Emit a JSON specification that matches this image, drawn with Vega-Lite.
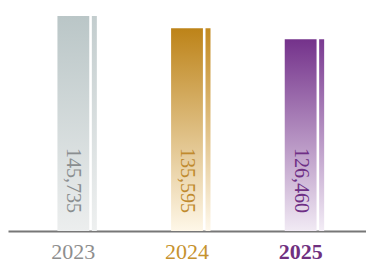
{
  "$schema": "https://vega.github.io/schema/vega-lite/v6.json",
  "width": 358,
  "height": 231,
  "autosize": {"type": "none"},
  "padding": {"left": 8, "top": 0, "right": 0, "bottom": 33},
  "background": "white",
  "config": {"view": {"stroke": null}},
  "data": {"values": [
    {"year": "2023", "value": 145735},
    {"year": "2024", "value": 135595},
    {"year": "2025", "value": 126460}
  ]},
  "encoding": {
    "x": {
      "field": "year", "type": "nominal", "sort": null,
      "scale": {"paddingInner": 0.72, "paddingOuter": 0.435},
      "axis": {
        "title": null, "labelAngle": 0, "ticks": false,
        "domainColor": "#777777", "domainWidth": 2,
        "labelFont": "Liberation Serif", "labelFontSize": 22, "labelPadding": 10,
        "labelColor": {"condition": [
          {"test": "datum.value === '2023'", "value": "#8e8e8e"},
          {"test": "datum.value === '2024'", "value": "#c6922e"}
        ], "value": "#70307f"},
        "labelFontWeight": {"condition": {"test": "datum.value === '2025'", "value": "bold"}, "value": "normal"}
      }
    }
  },
  "layer": [
    {
      "mark": {"type": "bar"},
      "encoding": {
        "y": {"field": "value", "type": "quantitative", "scale": {"domain": [-33000, 159000], "nice": false, "zero": false}, "axis": null},
        "y2": {"datum": -33000},
        "color": {"condition": [
          {"test": "datum.year === '2023'", "value": {"gradient": "linear", "x1": 0, "y1": 0, "x2": 0, "y2": 1, "stops": [{"offset": 0, "color": "#bac6c7"}, {"offset": 1, "color": "#eceeee"}]}},
          {"test": "datum.year === '2024'", "value": {"gradient": "linear", "x1": 0, "y1": 0, "x2": 0, "y2": 1, "stops": [{"offset": 0, "color": "#bd8318"}, {"offset": 1, "color": "#fef7e8"}]}}
        ], "value": {"gradient": "linear", "x1": 0, "y1": 0, "x2": 0, "y2": 1, "stops": [{"offset": 0, "color": "#74328b"}, {"offset": 1, "color": "#f1eaf4"}]}}
      }
    },
    {
      "mark": {"type": "bar", "width": 5, "xOffset": 21},
      "encoding": {
        "y": {"field": "value", "type": "quantitative"},
        "y2": {"datum": -33000},
        "color": {"condition": [
          {"test": "datum.year === '2023'", "value": {"gradient": "linear", "x1": 0, "y1": 0, "x2": 0, "y2": 1, "stops": [{"offset": 0, "color": "#c3cdce"}, {"offset": 1, "color": "#eef0f0"}]}},
          {"test": "datum.year === '2024'", "value": {"gradient": "linear", "x1": 0, "y1": 0, "x2": 0, "y2": 1, "stops": [{"offset": 0, "color": "#c38a20"}, {"offset": 1, "color": "#fef8ec"}]}}
        ], "value": {"gradient": "linear", "x1": 0, "y1": 0, "x2": 0, "y2": 1, "stops": [{"offset": 0, "color": "#7a3a91"}, {"offset": 1, "color": "#f3edf6"}]}}
      }
    },
    {
      "mark": {"type": "text", "angle": 90, "align": "right", "baseline": "middle", "dx": -18, "font": "Liberation Serif", "fontSize": 20},
      "encoding": {
        "y": {"datum": -33000, "type": "quantitative"},
        "text": {"field": "value", "type": "quantitative", "format": ","},
        "color": {"condition": [
          {"test": "datum.year === '2023'", "value": "#8a8e90"},
          {"test": "datum.year === '2024'", "value": "#c08a2e"}
        ], "value": "#6e2f85"},
        "fontWeight": {"condition": {"test": "datum.year === '2025'", "value": "bold"}, "value": "normal"}
      }
    }
  ]
}
